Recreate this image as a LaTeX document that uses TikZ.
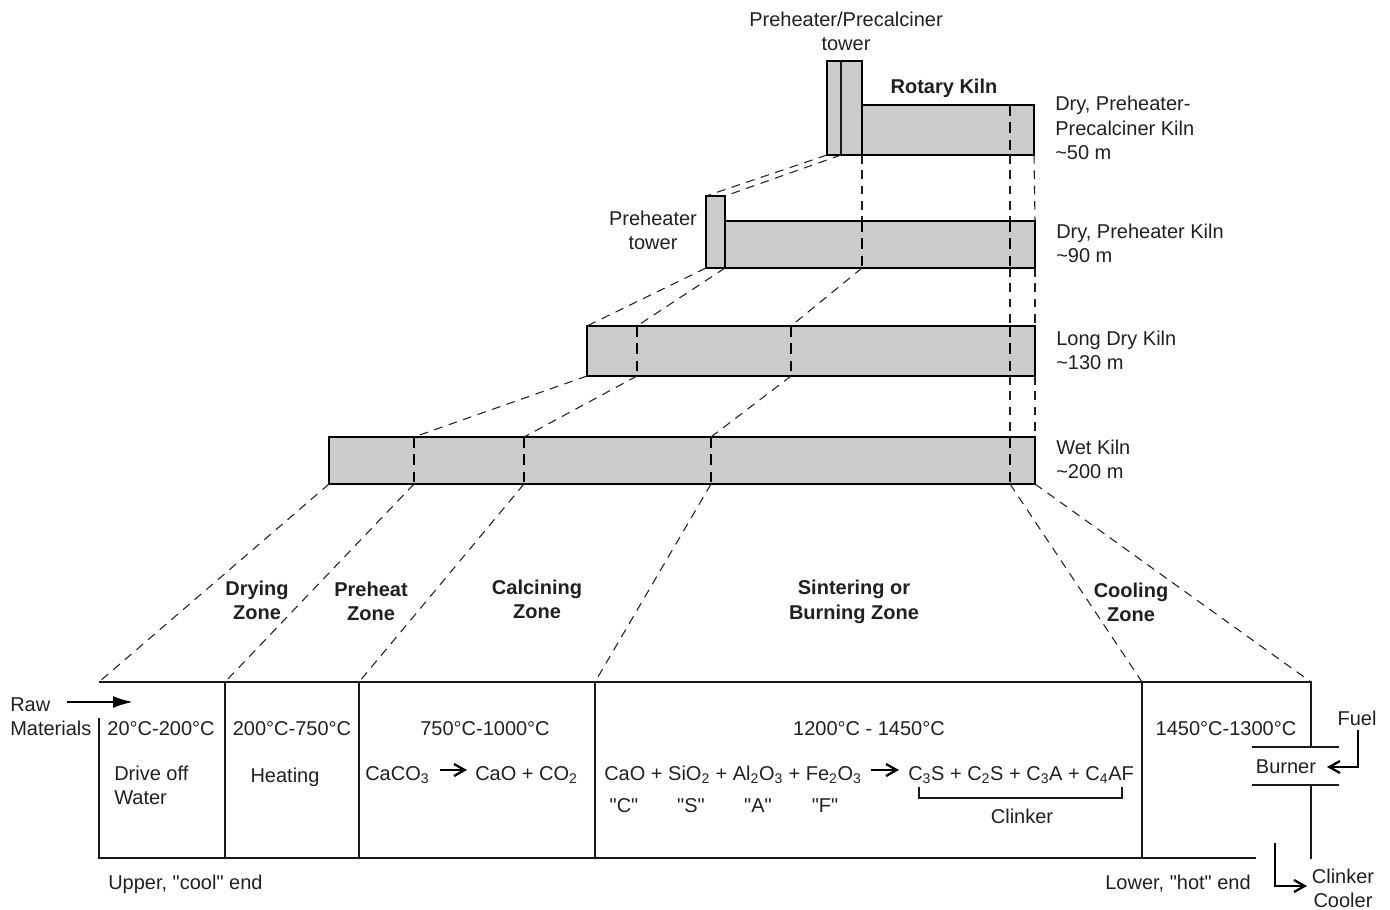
\documentclass[tikz,border=0pt]{standalone}
\usepackage{fontspec}
\setmainfont{Liberation Sans}
\usepackage{tikz}
\usetikzlibrary{arrows.meta}
\definecolor{ink}{HTML}{231F20}
\definecolor{kilngray}{HTML}{CBCBCB}
\newcommand{\qt}[1]{\textquotedbl{}#1\textquotedbl{}}
\tikzset{
  lbl/.style={inner sep=0pt, align=center, text=ink, font=\fontsize{15pt}{18.2pt}\selectfont},
  blbl/.style={lbl, font=\fontsize{15pt}{18.2pt}\selectfont\bfseries},
  kilnbox/.style={draw=black, fill=kilngray, line width=2.1pt},
  zonemark/.style={draw=black, line width=2.1pt, dash pattern=on 8pt off 5pt},
  proj/.style={draw=ink, line width=0.8pt, dash pattern=on 6.5pt off 5pt},
  wall/.style={draw=black!90, line width=2pt},
  flow/.style={draw=black, line width=1.7pt, -{Straight Barb[length=8pt,width=9pt,line width=1.7pt]}},
  rawflow/.style={draw=black, line width=1.7pt, -{Latex[length=15pt,width=9pt]}}
}
\begin{document}
\begin{tikzpicture}[x=0.75pt, y=-0.75pt]
    \useasboundingbox (0,0) rectangle (1390,910);

    \coordinate (ta) at (827,61);  \coordinate (tb) at (841,155); \coordinate (tc) at (841,61);
    \coordinate (td) at (862,155); \coordinate (te) at (862,105); \coordinate (tf) at (1034,155);
    \coordinate (ta1) at (827,155); \coordinate (tz) at (1010,105); \coordinate (tz1) at (1010,155);
    \coordinate (pa) at (706,196); \coordinate (pb) at (725,268); \coordinate (pa1) at (706,268);
    \coordinate (pc) at (725,196); \coordinate (pd) at (725,221); \coordinate (pe) at (1035,268);
    \coordinate (pm) at (862,221); \coordinate (pm1) at (862,268);
    \coordinate (pz) at (1010,221); \coordinate (pz1) at (1010,268); \coordinate (pf) at (1035,221);
    \coordinate (la) at (587,326); \coordinate (la1) at (587,376); \coordinate (lb) at (1035,376);
    \coordinate (lf) at (1035,326);
    \coordinate (lm) at (637,326); \coordinate (lm1) at (637,376);
    \coordinate (ln) at (791,326); \coordinate (ln1) at (791,376);
    \coordinate (lz) at (1010,326); \coordinate (lz1) at (1010,376);
    \coordinate (wa) at (329,437); \coordinate (wa1) at (329,484); \coordinate (wb) at (1035,484);
    \coordinate (wf) at (1035,437);
    \coordinate (wm) at (414,437); \coordinate (wm1) at (414,484);
    \coordinate (wn) at (524,437); \coordinate (wn1) at (524,484);
    \coordinate (wo) at (711,437); \coordinate (wo1) at (711,484);
    \coordinate (wz) at (1010,437); \coordinate (wz1) at (1010,484);

    \draw[kilnbox] (ta) rectangle (td);
    \draw[kilnbox] (te) rectangle (tf);
    \draw[kilnbox] (pa) rectangle (pb);
    \draw[kilnbox] (pd) rectangle (pe);
    \draw[kilnbox] (la) rectangle (lb);
    \draw[kilnbox] (wa) rectangle (wb);
    \draw[wall] (tc) -- (tb);
    \draw[zonemark] (tz) -- (tz1);
    \draw[zonemark] (pm) -- (pm1);
    \draw[zonemark] (pz) -- (pz1);
    \draw[zonemark] (lm) -- (lm1);
    \draw[zonemark] (ln) -- (ln1);
    \draw[zonemark] (lz) -- (lz1);
    \draw[zonemark] (wm) -- (wm1);
    \draw[zonemark] (wn) -- (wn1);
    \draw[zonemark] (wo) -- (wo1);
    \draw[zonemark] (wz) -- (wz1);

    \coordinate (ba) at (99,682);  \coordinate (bb) at (225,682); \coordinate (bc) at (359,682);
    \coordinate (bd) at (595,682); \coordinate (be) at (1142,682); \coordinate (bf) at (1311,682);
    \coordinate (ca) at (99,718);  \coordinate (cs) at (99,858); \coordinate (cb) at (225,858);
    \coordinate (cc) at (359,858); \coordinate (cd) at (595,858); \coordinate (ce) at (1142,858);
    \coordinate (cf) at (1256,858);
    \coordinate (ra) at (1311,747); \coordinate (rb) at (1311,785); \coordinate (rc) at (1311,859);
    \coordinate (ua) at (1252,747); \coordinate (ub) at (1339,747);
    \coordinate (uc) at (1252,785); \coordinate (ud) at (1339,785);

    \draw (ta1) edge[proj] (pa) (tb) edge[proj] (pc) (td) edge[proj] (pm) (tz1) edge[proj] (pz) (tf) edge[proj] (pf);
    \draw (pa1) edge[proj] (la) (pb) edge[proj] (lm) (pm1) edge[proj] (ln) (pz1) edge[proj] (lz) (pe) edge[proj] (lf);
    \draw (la1) edge[proj] (wm) (lm1) edge[proj] (wn) (ln1) edge[proj] (wo) (lz1) edge[proj] (wz) (lb) edge[proj] (wf);
    \draw (wa1) edge[proj] (ba) (wm1) edge[proj] (bb) (wn1) edge[proj] (bc) (wo1) edge[proj] (bd) (wz1) edge[proj] (be) (wb) edge[proj] (bf);

    \draw[wall] (ba) -- (bf) -- (ra);
    \draw[wall] (ca) -- (cs) -- (cf);
    \draw[wall] (bb) -- (cb);
    \draw[wall] (bc) -- (cc);
    \draw[wall] (bd) -- (cd);
    \draw[wall] (be) -- (ce);
    \draw[wall] (rb) -- (rc);
    \draw[wall] (ua) -- (ub);
    \draw[wall] (uc) -- (ud);

    \node[lbl] (ptower) at (846,31) {Preheater/Precalciner\\tower};
    \node[blbl] (rotary) at (944,88) {Rotary Kiln};
    \node[lbl, align=left, anchor=west] (dryppk) at (1055,128) {Dry, Preheater-\\Precalciner Kiln\\\textasciitilde50 m};
    \node[lbl] (htower) at (653,230) {Preheater\\tower};
    \node[lbl, align=left, anchor=west] (drypk) at (1056,243) {Dry, Preheater Kiln\\\textasciitilde90 m};
    \node[lbl, align=left, anchor=west] (longdry) at (1056,350) {Long Dry Kiln\\\textasciitilde130 m};
    \node[lbl, align=left, anchor=west] (wetk) at (1056,459) {Wet Kiln\\\textasciitilde200 m};

    \node[blbl] (drying) at (257,600) {Drying\\Zone};
    \node[blbl] (preheat) at (371,601) {Preheat\\Zone};
    \node[blbl] (calcining) at (537,599) {Calcining\\Zone};
    \node[blbl] (sintering) at (854,602) {Sintering or\\Burning Zone};
    \node[blbl] (cooling) at (1131,602) {Cooling\\Zone};

    \node[lbl, align=left, anchor=west] (raw) at (10,717) {Raw\\Materials};
    \coordinate (rawa) at (67,702);
    \coordinate (rawb) at (133,702);
    \draw[rawflow] (rawa) -- (rawb);

    \node[lbl] (t1) at (161,729) {20°C-200°C};
    \node[lbl] (t2) at (292,729) {200°C-750°C};
    \node[lbl] (t3) at (485,729) {750°C-1000°C};
    \node[lbl] (t4) at (869,729) {1200°C - 1450°C};
    \node[lbl] (t5) at (1226,729) {1450°C-1300°C};
    \node[lbl, align=left, anchor=west] (drive) at (114,785) {Drive off\\Water};
    \node[lbl] (heating) at (285,777) {Heating};

    \node[lbl, anchor=west] (caco) at (365,775) {CaCO\textsubscript{3}};
    \node[lbl, anchor=west] (cao) at (475,775) {CaO + CO\textsubscript{2}};
    \node[lbl, anchor=west] (oxides) at (604,775) {CaO + SiO\textsubscript{2} + Al\textsubscript{2}O\textsubscript{3} + Fe\textsubscript{2}O\textsubscript{3}};
    \node[lbl, anchor=west] (phases) at (908,775) {C\textsubscript{3}S + C\textsubscript{2}S + C\textsubscript{3}A + C\textsubscript{4}AF};
    \coordinate (oxa) at (871,770);
    \coordinate (oxb) at (899,770);
    \coordinate (coa) at (440,770);
    \coordinate (cob) at (467,770);
    \draw[flow] (coa) -- (cob);
    \draw[flow] (oxa) -- (oxb);

    \node[lbl] (c) at (624,806) {\qt{C}};
    \node[lbl] (s) at (691,806) {\qt{S}};
    \node[lbl] (a) at (758,806) {\qt{A}};
    \node[lbl] (f) at (825,806) {\qt{F}};
    \coordinate (bra) at (919,787); \coordinate (brb) at (919,798);
    \coordinate (brc) at (1122,798); \coordinate (brd) at (1122,787);
    \draw[wall] (bra) -- (brb) -- (brc) -- (brd);
    \node[lbl] (clinker) at (1022,816) {Clinker};

    \node[lbl, anchor=west] (upper) at (108,884) {Upper, \qt{cool} end};
    \node[lbl, anchor=east] (lower) at (1251,884) {Lower, \qt{hot} end};
    \node[lbl] (burner) at (1286,767) {Burner};
    \node[lbl] (fuel) at (1357,718) {Fuel};
    \coordinate (fa) at (1358,730); \coordinate (fb) at (1358,767); \coordinate (fc) at (1327,767);
    \draw[flow] (fa) -- (fb) -- (fc);
    \node[lbl] (cooler) at (1343,888) {Clinker\\Cooler};
    \coordinate (ga) at (1275,843); \coordinate (gb) at (1275,886); \coordinate (gc) at (1307,886);
    \draw[flow] (ga) -- (gb) -- (gc);
\end{tikzpicture}
\end{document}
